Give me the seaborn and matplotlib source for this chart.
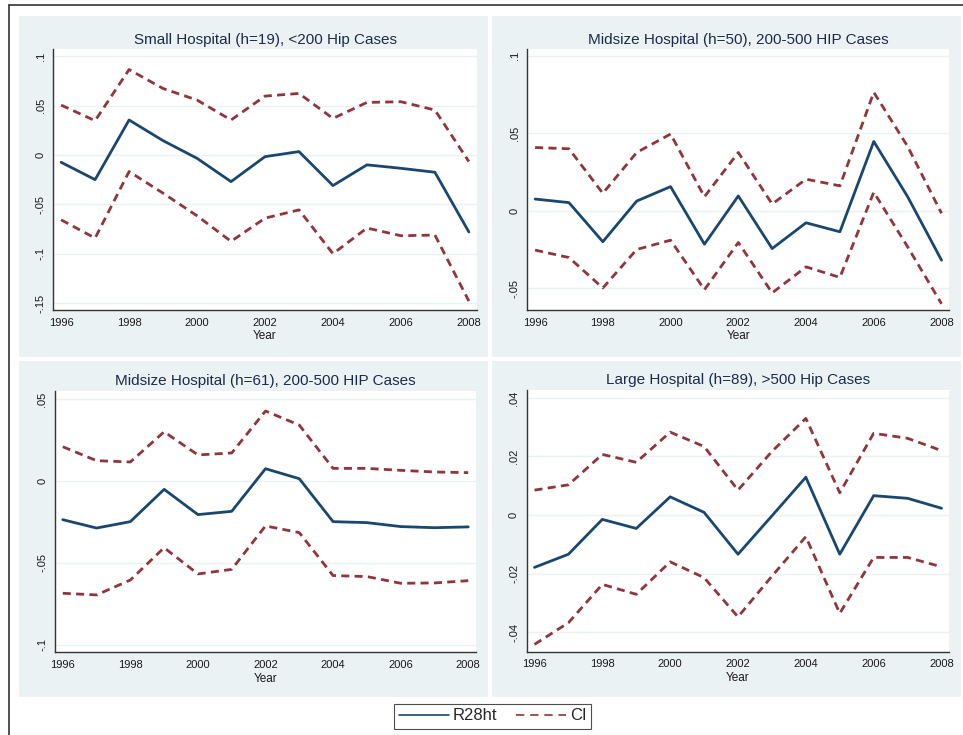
import numpy as np
import pandas as pd
import matplotlib
matplotlib.use("Agg")
import matplotlib.pyplot as plt
import seaborn as sns
from matplotlib.lines import Line2D
from matplotlib.patches import Rectangle
from matplotlib.ticker import FuncFormatter

# Data
years = list(range(1996, 2009))

small_est = [-0.0074, -0.025, 0.0354, 0.0145, -0.0034, -0.027, -0.0017, 0.0034, -0.031, -0.010, -0.0135, -0.0175, -0.078]
small_hi = [0.0505, 0.0347, 0.0865, 0.0673, 0.0556, 0.0354, 0.0596, 0.0623, 0.037, 0.0532, 0.0539, 0.0455, -0.0067]
small_lo = [-0.0657, -0.0842, -0.0168, -0.0387, -0.0616, -0.0875, -0.064, -0.0556, -0.100, -0.074, -0.0818, -0.0811, -0.148]

mid50_est = [0.0075, 0.0052, -0.020, 0.0062, 0.0155, -0.0216, 0.0095, -0.0244, -0.0078, -0.0136, 0.0446, 0.009, -0.0319]
mid50_hi = [0.0407, 0.0399, 0.0112, 0.0375, 0.0494, 0.009, 0.0375, 0.0043, 0.0203, 0.016, 0.0763, 0.0414, -0.0017]
mid50_lo = [-0.0254, -0.0302, -0.0498, -0.025, -0.019, -0.0509, -0.0205, -0.053, -0.0362, -0.043, 0.0119, -0.0233, -0.060]

mid61_est = [-0.0236, -0.0287, -0.0248, -0.0051, -0.0205, -0.0185, 0.0075, 0.0014, -0.0248, -0.0254, -0.0278, -0.0285, -0.028]
mid61_hi = [0.0209, 0.0124, 0.0116, 0.030, 0.0159, 0.0171, 0.0427, 0.0341, 0.0077, 0.0077, 0.0065, 0.0055, 0.0051]
mid61_lo = [-0.0685, -0.0695, -0.0604, -0.0407, -0.0567, -0.0539, -0.0274, -0.0315, -0.0577, -0.0583, -0.0624, -0.0622, -0.0608]

large_est = [-0.0179, -0.0134, -0.0015, -0.0046, 0.0062, 0.0009, -0.0134, -0.0003, 0.0129, -0.0134, 0.0066, 0.0057, 0.0023]
large_hi = [0.0085, 0.0103, 0.0207, 0.018, 0.0283, 0.0234, 0.0085, 0.0217, 0.033, 0.0076, 0.0279, 0.0262, 0.022]
large_lo = [-0.0442, -0.0368, -0.0237, -0.0271, -0.016, -0.0214, -0.0348, -0.0209, -0.0074, -0.0336, -0.0145, -0.0145, -0.0177]

titles = ["Small Hospital (h=19), <200 Hip Cases",
          "Midsize Hospital (h=50), 200-500 HIP Cases",
          "Midsize Hospital (h=61), 200-500 HIP Cases",
          "Large Hospital (h=89), >500 Hip Cases"]

sns.set_style("white")
plt.rcParams['font.family'] = ['Liberation Sans', 'DejaVu Sans']

navy = '#1a476f'
maroon = '#90353b'
panel_bg = '#eaf2f3'
dash = (0, (2.9, 1.9))

W, H = 963, 735
fig = plt.figure(figsize=(W / 100, H / 100), dpi=100)

# panel backgrounds (pixel boxes: x0, y0, x1, y1)
for x0, y0, x1, y1 in [(19, 16, 488, 357), (492, 16, 961, 357),
                       (19, 361, 488, 697), (492, 361, 961, 697)]:
    fig.patches.append(Rectangle((x0 / W, 1 - y1 / H), (x1 - x0) / W, (y1 - y0) / H,
                                 transform=fig.transFigure, facecolor=panel_bg,
                                 edgecolor='none', zorder=-10))

# outer border lines
fig.add_artist(Line2D([9 / W, 9 / W], [0, 1 - 5 / H], color='#333333', lw=1.2, transform=fig.transFigure))
fig.add_artist(Line2D([9 / W, 1], [1 - 5 / H, 1 - 5 / H], color='#333333', lw=1.2, transform=fig.transFigure))

boxes = [(53.3, 49.3, 476.7, 310), (527.3, 49.3, 949.3, 310),
         (55, 391, 476, 652.3), (526.7, 390, 949.3, 651.7)]
ylims = [(-0.157, 0.107), (-0.064, 0.104), (-0.1045, 0.0549), (-0.0467, 0.0427)]
yticks = [np.arange(-0.15, 0.1001, 0.05), np.arange(-0.05, 0.1001, 0.05),
          np.arange(-0.1, 0.0501, 0.05), np.arange(-0.04, 0.0401, 0.02)]
series = [(small_est, small_hi, small_lo), (mid50_est, mid50_hi, mid50_lo),
          (mid61_est, mid61_hi, mid61_lo), (large_est, large_hi, large_lo)]


def stata_fmt(v, pos):
    if abs(v) < 1e-9:
        return "0"
    s = ("%.2f" % v).rstrip('0')
    return s.replace("0.", ".")


for (x0, y0, x1, y1), title, yl, yt, (est, hi, lo) in zip(boxes, titles, ylims, yticks, series):
    ax = fig.add_axes([x0 / W, 1 - y1 / H, (x1 - x0) / W, (y1 - y0) / H])
    ax.set_zorder(5)
    ax.set_facecolor('white')
    df = pd.DataFrame({'Year': years, 'est': est, 'hi': hi, 'lo': lo})
    sns.lineplot(data=df, x='Year', y='hi', ax=ax, color=maroon, lw=2.0, linestyle=dash)
    sns.lineplot(data=df, x='Year', y='lo', ax=ax, color=maroon, lw=2.0, linestyle=dash)
    sns.lineplot(data=df, x='Year', y='est', ax=ax, color=navy, lw=2.0)
    ax.set_xlim(1995.77, 2008.23)
    ax.set_ylim(*yl)
    ax.set_xticks(range(1996, 2009, 2))
    ax.set_yticks(yt)
    ax.yaxis.set_major_formatter(FuncFormatter(stata_fmt))
    ax.grid(axis='y', color=panel_bg, lw=1.0)
    ax.grid(axis='x', visible=False)
    ax.set_axisbelow(True)
    for s in ['top', 'right']:
        ax.spines[s].set_visible(False)
    for s in ['left', 'bottom']:
        ax.spines[s].set_color('#333333')
        ax.spines[s].set_linewidth(1.0)
    ax.tick_params(axis='both', direction='out', length=3.5, width=0.8, color='#333333',
                   labelsize=8, labelcolor='#1a1a1a', pad=2)
    ax.tick_params(axis='y', labelrotation=90)
    for lab in ax.get_yticklabels():
        lab.set_va('center')
    ax.set_xlabel('Year', fontsize=8.5, labelpad=2, color='#1a1a1a')
    ax.set_ylabel('')
    ax.set_title(title, fontsize=11, color='#1e2a4a', pad=4)

handles = [Line2D([], [], color=navy, lw=1.2),
           Line2D([], [], color=maroon, lw=1.2, linestyle=(0, (5, 3.5)))]
leg = fig.legend(handles, ['R28ht', 'CI'], loc='center', bbox_to_anchor=(0.5114, 1 - 716 / H),
                 ncol=2, fontsize=12, frameon=True, fancybox=False, handlelength=3.0,
                 columnspacing=1.1, handletextpad=0.25, borderpad=0.3)
leg.get_frame().set_edgecolor('#222222')
leg.get_frame().set_linewidth(0.8)

fig.savefig('out.png', dpi=100)
